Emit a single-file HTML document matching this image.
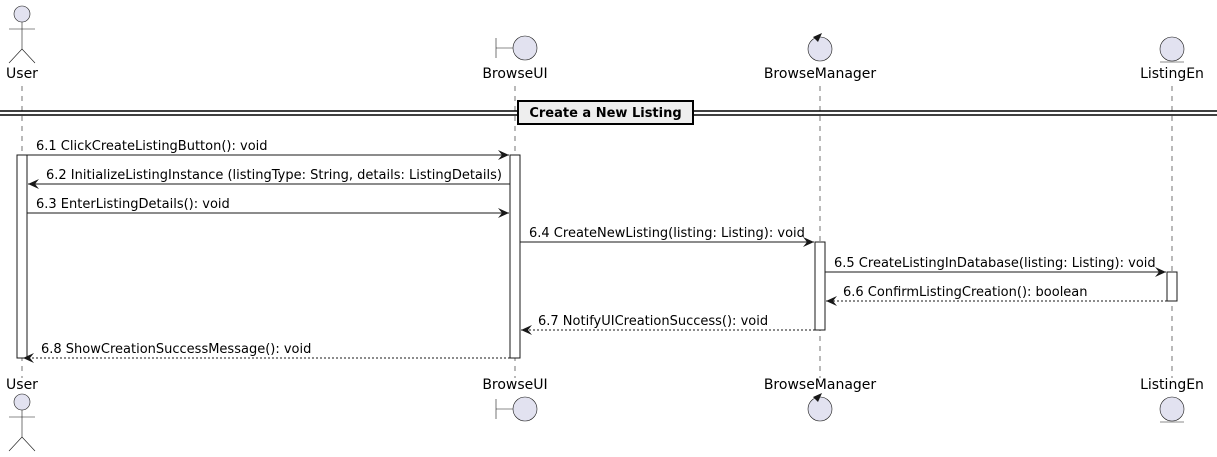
<!DOCTYPE html>
<html><head><meta charset="utf-8"><style>
html,body{margin:0;padding:0;background:#fff;}
svg{display:block;}
text{font-family:"DejaVu Sans","Liberation Sans",sans-serif;font-size:13px;fill:#000;}
.p{font-size:14px;}
</style></head><body>
<svg width="1217" height="457" viewBox="0 0 1217 457" xmlns="http://www.w3.org/2000/svg">
<defs>
<marker id="a" markerWidth="12" markerHeight="10" refX="11" refY="5" orient="auto" markerUnits="userSpaceOnUse">
<path d="M0,0 L11,5 L0,10 L4,5 Z" fill="#181818"/></marker>
</defs>
<g stroke="#181818" stroke-width="0.6" stroke-dasharray="5,5">
<line x1="22" y1="86" x2="22" y2="378"/>
<line x1="515" y1="86" x2="515" y2="378"/>
<line x1="820" y1="86" x2="820" y2="378"/>
<line x1="1172" y1="86" x2="1172" y2="378"/>
</g>
<g fill="#E2E2F0" stroke="#181818" stroke-width="0.6">
<circle cx="22" cy="14" r="8"/>
<line x1="22" y1="22" x2="22" y2="49"/><line x1="9" y1="29" x2="35" y2="29"/>
<line x1="22" y1="49" x2="9" y2="63"/><line x1="22" y1="49" x2="35" y2="63"/>
<circle cx="525" cy="48" r="12"/>
<line x1="496" y1="38" x2="496" y2="58"/><line x1="496" y1="48" x2="513" y2="48"/>
<circle cx="820" cy="49" r="12"/>
<circle cx="1172" cy="49" r="12"/>
<line x1="1160" y1="62" x2="1184" y2="62"/>
</g>
<path d="M822,33 L813,37 L818,42 Z" fill="#181818"/>
<text class="p" x="22" y="78" text-anchor="middle">User</text>
<text class="p" x="515" y="78" text-anchor="middle">BrowseUI</text>
<text class="p" x="820" y="78" text-anchor="middle">BrowseManager</text>
<text class="p" x="1172" y="78" text-anchor="middle">ListingEn</text>
<text class="p" x="22" y="389" text-anchor="middle">User</text>
<text class="p" x="515" y="389" text-anchor="middle">BrowseUI</text>
<text class="p" x="820" y="389" text-anchor="middle">BrowseManager</text>
<text class="p" x="1172" y="389" text-anchor="middle">ListingEn</text>
<g fill="#E2E2F0" stroke="#181818" stroke-width="0.6">
<circle cx="22" cy="402" r="8"/>
<line x1="22" y1="410" x2="22" y2="437"/><line x1="9" y1="417" x2="35" y2="417"/>
<line x1="22" y1="437" x2="9" y2="451"/><line x1="22" y1="437" x2="35" y2="451"/>
<circle cx="525" cy="409" r="12"/>
<line x1="496" y1="399" x2="496" y2="419"/><line x1="496" y1="409" x2="513" y2="409"/>
<circle cx="820" cy="409" r="12"/>
<circle cx="1172" cy="409" r="12"/>
<line x1="1160" y1="422" x2="1184" y2="422"/>
</g>
<path d="M822,393 L813,397 L818,402 Z" fill="#181818"/>
<g stroke="#000" stroke-width="1.5">
<line x1="0" y1="111" x2="1217" y2="111"/><line x1="0" y1="115" x2="1217" y2="115"/>
</g>
<rect x="518" y="101" width="175" height="23" fill="#EEEEEE" stroke="#000" stroke-width="2"/>
<text x="605.5" y="117" text-anchor="middle" style="font-weight:bold;font-size:13px">Create a New Listing</text>
<g fill="#fff" stroke="#181818" stroke-width="1">
<rect x="17" y="155" width="10" height="203"/>
<rect x="510" y="155" width="10" height="203"/>
<rect x="815" y="242" width="10" height="88"/>
<rect x="1167" y="272" width="10" height="29"/>
</g>
<g stroke="#181818" stroke-width="1" fill="none">
<line x1="27" y1="155" x2="509" y2="155" marker-end="url(#a)"/>
<line x1="510" y1="184" x2="28" y2="184" marker-end="url(#a)"/>
<line x1="27" y1="213" x2="509" y2="213" marker-end="url(#a)"/>
<line x1="520" y1="242" x2="814" y2="242" marker-end="url(#a)"/>
<line x1="825" y1="272" x2="1166" y2="272" marker-end="url(#a)"/>
<line x1="1167" y1="301" x2="826" y2="301" stroke-dasharray="2,2" marker-end="url(#a)"/>
<line x1="815" y1="330" x2="521" y2="330" stroke-dasharray="2,2" marker-end="url(#a)"/>
<line x1="510" y1="358" x2="23" y2="358" stroke-dasharray="2,2" marker-end="url(#a)"/>
</g>
<text x="36" y="150">6.1 ClickCreateListingButton(): void</text>
<text x="46" y="179">6.2 InitializeListingInstance (listingType: String, details: ListingDetails)</text>
<text x="36" y="208">6.3 EnterListingDetails(): void</text>
<text x="529" y="237">6.4 CreateNewListing(listing: Listing): void</text>
<text x="834" y="267">6.5 CreateListingInDatabase(listing: Listing): void</text>
<text x="843" y="296">6.6 ConfirmListingCreation(): boolean</text>
<text x="538" y="325">6.7 NotifyUICreationSuccess(): void</text>
<text x="41" y="353">6.8 ShowCreationSuccessMessage(): void</text>
</svg>
</body></html>
